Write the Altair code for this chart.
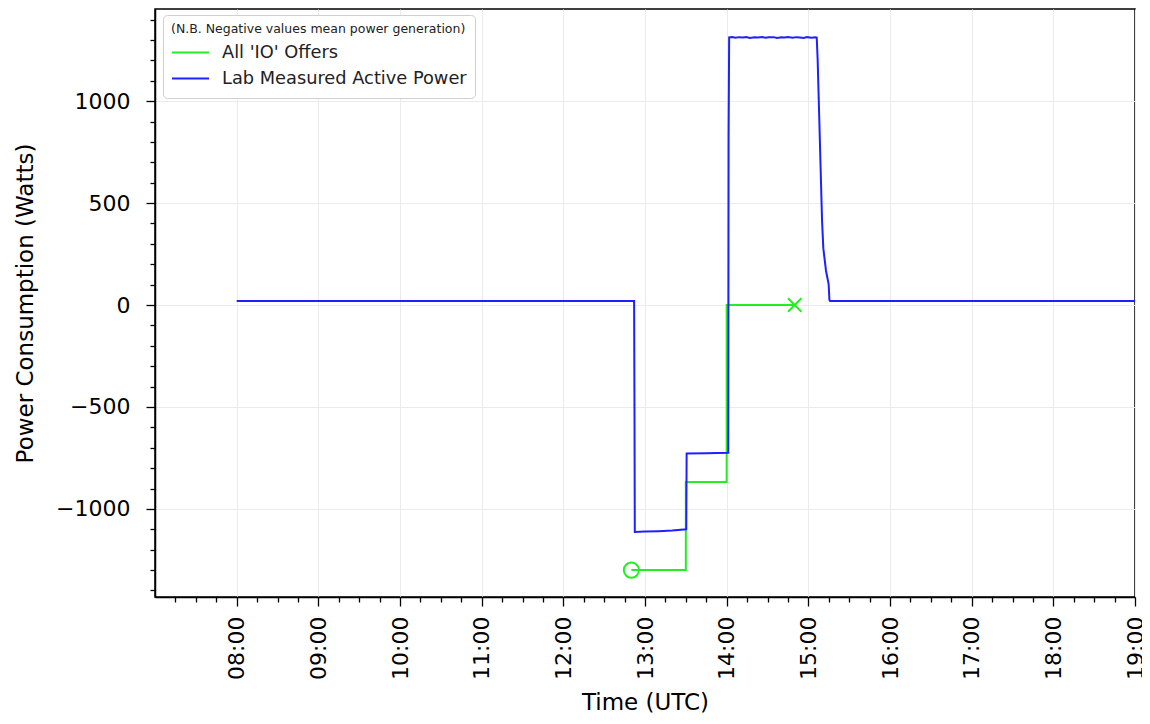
import altair as alt
import pandas as pd

# ---- data (times in UTC, HH:MM:SS) ----
blue_times = [
    "08:00:00", "12:52:00", "12:52:18", "12:52:30", "13:00:00", "13:10:00",
    "13:20:00", "13:30:20", "13:30:35", "13:45:00", "14:01:10", "14:01:25",
    "14:01:50", "14:04:00", "14:06:30", "14:09:00", "14:12:00", "14:14:30",
    "14:17:00", "14:20:30", "14:23:00", "14:26:00", "14:28:30", "14:31:00",
    "14:34:30", "14:37:00", "14:40:00", "14:42:30", "14:45:00", "14:48:30",
    "14:51:00", "14:54:00", "14:56:30", "14:59:00", "15:02:30", "15:05:00",
    "15:06:10", "15:06:50", "15:08:05", "15:10:05", "15:11:00", "15:13:00",
    "15:14:55", "15:15:30", "15:16:00", "19:00:00",
]
blue_values = [
    20, 20, -570, -1113, -1111, -1109,
    -1106, -1100, -728, -727, -725, 830,
    1313, 1315, 1311, 1314, 1312, 1315,
    1310, 1313, 1312, 1315, 1311, 1313,
    1314, 1310, 1313, 1312, 1315, 1311,
    1314, 1312, 1310, 1314, 1311, 1313,
    1312, 1206, 902, 412, 279, 167,
    103, 25, 20, 20,
]

green_times = ["12:50:00", "13:30:00", "14:00:00", "14:50:00"]
green_values = [-1300, -868, 0, 0]

series_names = ["All 'IO' Offers", "Lab Measured Active Power"]
series_colors = ["#22ee22", "#1f1fff"]

x_domain_hours = [7, 19]
y_domain = [-1432, 1452]


def to_hours(s):
    h, m, sec = (int(p) for p in s.split(":"))
    return h + m / 60 + sec / 3600


blue_df = pd.DataFrame({
    "t": [to_hours(s) for s in blue_times],
    "v": blue_values,
    "series": series_names[1],
})
green_df = pd.DataFrame({
    "t": [to_hours(s) for s in green_times],
    "v": green_values,
    "series": series_names[0],
})
green_start = green_df.iloc[[0]]
green_end = green_df.iloc[[-1]]

# tick positions: every 15 minutes (x), every 100 W (y)
x_vals = [7 + k * 0.25 for k in range(1, 49)]
y_vals = list(range(-1400, 1401, 100))

FONT = "DejaVu Sans"
MAJOR_X = "abs(datum.value - round(datum.value)) < 0.001"
MAJOR_Y = "datum.value % 500 == 0"
GRID = "#ebebeb"

x_scale = alt.Scale(domain=x_domain_hours, nice=False, zero=False)
y_scale = alt.Scale(domain=y_domain, nice=False, zero=False)

x_axis = alt.Axis(
    values=x_vals,
    tickCount=200,
    labelExpr=(
        f"{MAJOR_X} ? ((round(datum.value) < 10 ? '0' : '') + round(datum.value) + ':00') : ''"
    ),
    labelAngle=270,
    labelFontSize=22,
    labelFont=FONT,
    labelColor="black",
    labelPadding=10,
    labelOverlap=False,
    labelFlush=False,
    tickSize={"condition": {"test": MAJOR_X, "value": 9}, "value": 5},
    tickColor="black",
    tickWidth=1.3,
    gridOpacity={"condition": {"test": MAJOR_X, "value": 1}, "value": 0},
    gridColor=GRID,
    grid=True,
    domainColor="black",
    domainWidth=1.5,
    title="Time (UTC)",
    titleFont=FONT,
    titleFontSize=23,
    titleFontWeight="normal",
    titleColor="black",
    titlePadding=12,
)
y_axis = alt.Axis(
    values=y_vals,
    tickCount=200,
    format="d",
    labelExpr=f"{MAJOR_Y} ? datum.label : ''",
    labelFontSize=22,
    labelFont=FONT,
    labelColor="black",
    labelPadding=16,
    labelOverlap=False,
    tickSize={"condition": {"test": MAJOR_Y, "value": 9}, "value": 5},
    tickColor="black",
    tickWidth=1.3,
    gridOpacity={"condition": {"test": MAJOR_Y, "value": 1}, "value": 0},
    gridColor=GRID,
    grid=True,
    domainColor="black",
    domainWidth=1.5,
    title="Power Consumption (Watts)",
    titleFont=FONT,
    titleFontSize=23,
    titleFontWeight="normal",
    titleColor="black",
    titlePadding=18,
)

color = alt.Color(
    "series:N",
    scale=alt.Scale(domain=series_names, range=series_colors),
    legend=alt.Legend(
        title="(N.B. Negative values mean power generation)",
        orient="none",
        legendX=8,
        legendY=6,
        titleFont=FONT,
        titleFontSize=12.5,
        titleFontWeight="normal",
        titleColor="#222",
        titlePadding=6,
        titleLimit=600,
        labelFont=FONT,
        labelFontSize=17.8,
        labelColor="#222",
        labelOffset=12,
        labelLimit=600,
        symbolType="stroke",
        symbolSize=1369,
        symbolStrokeWidth=2,
        clipHeight=22,
        rowPadding=4,
        padding=8,
        fillColor="white",
        strokeColor="#d0d0d0",
        cornerRadius=4,
    ),
)

X = alt.X("t:Q", scale=x_scale, axis=x_axis)
Y = alt.Y("v:Q", scale=y_scale, axis=y_axis)

green_line = alt.Chart(green_df).mark_line(
    interpolate="step-after", strokeWidth=2
).encode(x=X, y=Y, color=color)

blue_line = alt.Chart(blue_df).mark_line(strokeWidth=2).encode(x=X, y=Y, color=color)

start_pt = alt.Chart(green_start).mark_point(
    shape="circle", filled=False, size=230, strokeWidth=2, color=series_colors[0], opacity=1
).encode(x="t:Q", y="v:Q")

end_pt = alt.Chart(green_end).mark_point(
    shape="M-1,-1L1,1M-1,1L1,-1", filled=False, size=180, strokeWidth=2,
    color=series_colors[0], opacity=1
).encode(x="t:Q", y="v:Q")

chart = (
    alt.layer(green_line, blue_line, start_pt, end_pt)
    .properties(
        width=980,
        height=588,
        autosize=alt.AutoSizeParams(type="none"),
        padding={"left": 147, "top": 1, "right": 7, "bottom": 119},
        background="white",
    )
    .configure_view(stroke="black", strokeWidth=1.5)
)

chart.save("out.html", embed_options={"renderer": "svg", "actions": False})
